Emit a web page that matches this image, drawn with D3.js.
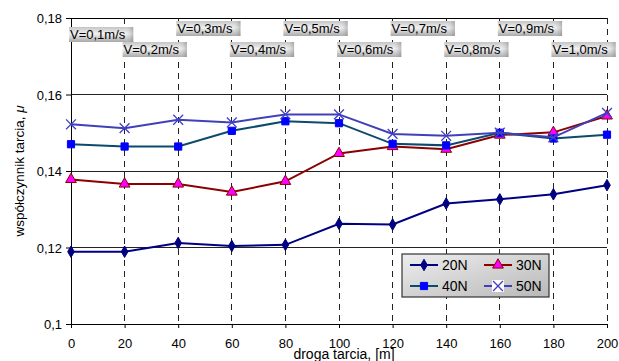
<!DOCTYPE html>
<html>
<head>
<meta charset="utf-8">
<script src="https://cdn.jsdelivr.net/npm/d3@7"></script>
<style>
  body { margin: 0; background: #fff; }
  svg { display: block; font-family: Arial, "Liberation Sans", sans-serif; }
</style>
</head>
<body>
<svg id="chart" width="619" height="361"></svg>
<script>
/* ------------------------------- data -------------------------------- */
const distance = [0, 20, 40, 60, 80, 100, 120, 140, 160, 180, 200];
const n20 = [0.1189, 0.1189, 0.1212, 0.1204, 0.1207, 0.1262, 0.1260, 0.1315, 0.1326, 0.1339, 0.1363];
const n30 = [0.1378, 0.1366, 0.1366, 0.1345, 0.1373, 0.1446, 0.1464, 0.1457, 0.1494, 0.1501, 0.1544];
const n40 = [0.1470, 0.1464, 0.1464, 0.1505, 0.1530, 0.1525, 0.1471, 0.1467, 0.1500, 0.1485, 0.1495];
const n50 = [0.1522, 0.1512, 0.1534, 0.1527, 0.1548, 0.1548, 0.1497, 0.1492, 0.1500, 0.1488, 0.1552];
const speedLabels = ['V=0,1m/s','V=0,2m/s','V=0,3m/s','V=0,4m/s','V=0,5m/s',
                     'V=0,6m/s','V=0,7m/s','V=0,8m/s','V=0,9m/s','V=1,0m/s'];
const yTicks = [0.10, 0.12, 0.14, 0.16, 0.18];

const series = [
  {name:'20N', values:n20, line:'#000080', fill:'#000080', marker:'diamond'},
  {name:'30N', values:n30, line:'#8b0000', fill:'#ff00ff', marker:'triangle'},
  {name:'40N', values:n40, line:'#0b4a6e', fill:'#0000ff', marker:'square'},
  {name:'50N', values:n50, line:'#4040b8', fill:'#4040c8', marker:'cross'}
];

/* ------------------------------- setup ------------------------------- */
const svg = d3.select('#chart');
const M = {top:18, left:71, right:12, bottom:37};
const W = 607 - M.left;
const H = 324 - M.top;
const g = svg.append('g').attr('transform', `translate(${M.left},${M.top})`);

const x = d3.scaleLinear().domain([0, 200]).range([0, W]);
const y = d3.scaleLinear().domain([0.10, 0.18]).range([H, 0]);

const defs = svg.append('defs');
const lg = defs.append('linearGradient').attr('id','lbl').attr('x1',0).attr('y1',0).attr('x2',0).attr('y2',1);
lg.append('stop').attr('offset','0%').attr('stop-color','#c4c4c4');
lg.append('stop').attr('offset','45%').attr('stop-color','#f2f2f2');
lg.append('stop').attr('offset','100%').attr('stop-color','#a8a8a8');
const lgh = defs.append('linearGradient').attr('id','lblh').attr('x1',0).attr('y1',0).attr('x2',1).attr('y2',0);
lgh.append('stop').attr('offset','0%').attr('stop-color','#fff').attr('stop-opacity',0);
lgh.append('stop').attr('offset','85%').attr('stop-color','#fff').attr('stop-opacity',0);
lgh.append('stop').attr('offset','100%').attr('stop-color','#777').attr('stop-opacity',0.45);
const leg = defs.append('linearGradient').attr('id','leg').attr('x1',0).attr('y1',0).attr('x2',1).attr('y2',1);
leg.append('stop').attr('offset','0%').attr('stop-color','#eeeeee');
leg.append('stop').attr('offset','100%').attr('stop-color','#b8b8b8');

/* ------------------------------- grid -------------------------------- */
g.selectAll('.hgrid').data(yTicks.slice(1))
  .enter().append('line')
  .attr('x1', 0).attr('x2', W)
  .attr('y1', d => y(d)).attr('y2', d => y(d))
  .attr('stroke', d => d === 0.18 ? '#000' : '#222').attr('stroke-width', 1)
  .attr('shape-rendering','crispEdges');

g.selectAll('.vgrid').data(distance.slice(1))
  .enter().append('line')
  .attr('x1', d => x(d)).attr('x2', d => x(d))
  .attr('y1', 0).attr('y2', H)
  .attr('stroke', '#222').attr('stroke-dasharray', '6,5')
  .attr('shape-rendering','crispEdges');

/* ------------------------------- axes -------------------------------- */
const xAxis = g.append('g').attr('transform', `translate(0,${H})`)
  .call(d3.axisBottom(x).tickValues(distance).tickSize(4).tickPadding(11).tickFormat(d3.format('d')));
const yAxis = g.append('g')
  .call(d3.axisLeft(y).tickValues(yTicks).tickSize(5).tickPadding(4)
    .tickFormat(d => d3.format('.2~f')(d).replace('.', ',')));
[xAxis, yAxis].forEach(a => {
  a.select('.domain').attr('stroke','#000');
  a.selectAll('.tick line').attr('stroke','#000');
  a.selectAll('.tick text').attr('fill','#000').style('font-size','13px');
});
yAxis.selectAll('.tick text').attr('dy','0.35em');

svg.append('text')
  .attr('transform', 'translate(19,171) rotate(-90)')
  .attr('text-anchor','middle').attr('dy','0.35em')
  .style('font-size','13.5px')
  .html('współczynnik tarcia, <tspan font-style="italic">μ</tspan>');

svg.append('text')
  .attr('x', 344).attr('y', 359)
  .attr('text-anchor','middle')
  .style('font-size','14px')
  .text('droga tarcia, [m]');

/* ------------------------------- speed labels ------------------------ */
const lblG = g.selectAll('.speed').data(speedLabels).enter().append('g')
  .attr('transform', (d, i) => {
    const top = i === 0 ? 9 : (i % 2 === 0 ? 3 : 24);
    return `translate(${x(distance[i]) - 2},${top})`;
  });
lblG.each(function(d) {
  const s = d3.select(this);
  const t = s.append('text').attr('x', 1).attr('y', 11.5).style('font-size','13px').attr('fill','#000').text(d);
  const w = t.node().getComputedTextLength() + 9;
  s.insert('rect', 'text').attr('width', w).attr('height', 15).attr('fill', 'url(#lbl)');
  s.insert('rect', 'text').attr('width', w).attr('height', 15).attr('fill', 'url(#lblh)');
});

/* ------------------------------- series ------------------------------ */
const line = d3.line().x((d, i) => x(distance[i])).y(d => y(d));
const sym = {
  diamond: d3.symbol().type(d3.symbolDiamond).size(38),
  triangle: d3.symbol().type(d3.symbolTriangle).size(50),
  square: d3.symbol().type(d3.symbolSquare).size(52),
  cross: d3.symbol().type(d3.symbolX).size(65)
};

function drawMarker(sel, s) {
  sel.append('path')
    .attr('d', sym[s.marker])
    .attr('fill', s.marker === 'cross' ? 'none' : s.fill)
    .attr('stroke', s.marker === 'cross' ? s.fill : (s.marker === 'triangle' ? s.line : s.fill))
    .attr('stroke-width', s.marker === 'cross' ? 1.3 : 1);
}

series.forEach(s => {
  g.append('path').datum(s.values)
    .attr('d', line).attr('fill','none')
    .attr('stroke', s.line).attr('stroke-width', 2);
  g.selectAll(null).data(s.values).enter().append('g')
    .attr('transform', (d, i) => `translate(${x(distance[i])},${y(d)})`)
    .each(function() { drawMarker(d3.select(this), s); });
});

/* ------------------------------- legend ------------------------------ */
const lgd = svg.append('g').attr('transform', 'translate(402,254)');
lgd.append('rect').attr('width', 147).attr('height', 43)
  .attr('fill', 'url(#leg)').attr('stroke', '#333').attr('stroke-width', 1.2);
series.forEach((s, i) => {
  const col = i % 2, row = Math.floor(i / 2);
  const e = lgd.append('g').attr('transform', `translate(${8 + col * 74},${11 + row * 21})`);
  e.append('line').attr('x1', 0).attr('x2', 28).attr('stroke', s.line).attr('stroke-width', 2);
  if (s.marker === 'cross') e.append('rect').attr('x', 8).attr('y', -6).attr('width', 12).attr('height', 12).attr('fill', '#fff');
  drawMarker(e.append('g').attr('transform', 'translate(14,0)'), s);
  e.append('text').attr('x', 32).attr('dy', '0.36em').style('font-size','14px').text(s.name);
});
</script>
</body>
</html>
